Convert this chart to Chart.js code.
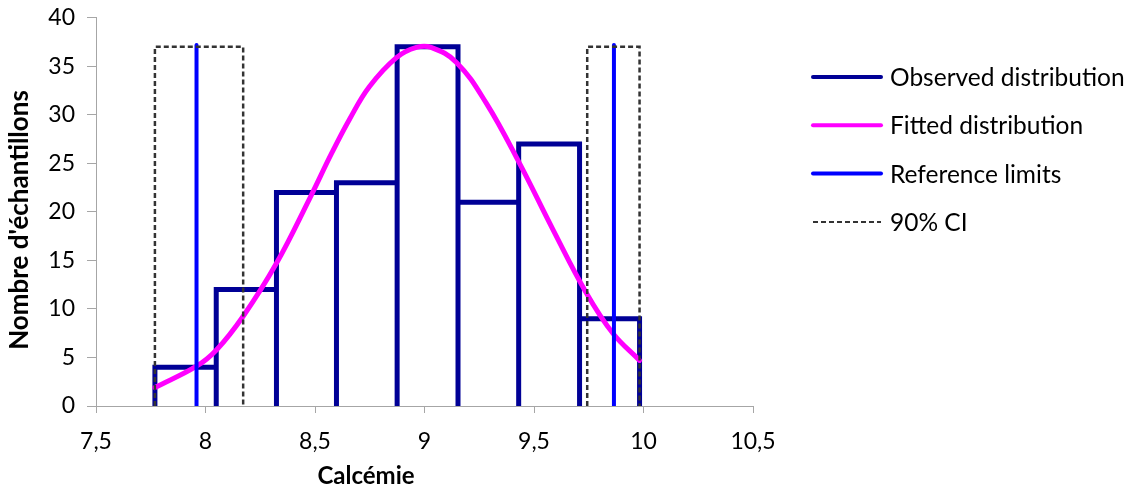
<!DOCTYPE html>
<html lang="fr">
<head>
  <meta charset="UTF-8" />
  <title>Calcémie</title>
  <script src="https://cdn.jsdelivr.net/npm/chart.js"></script>
  <style>
    body {
      margin: 0;
      padding: 0;
      background: #ffffff;
    }
    .wrap {
      width: 1132px;
      height: 492px;
      position: relative;
    }
  </style>
</head>
<body>
  <div class="wrap">
    <canvas id="chart"></canvas>
  </div>

  <script>
    // histogram bins (edges) and counts
    const binEdges = [7.769, 8.049, 8.324, 8.598, 8.875, 9.153, 9.430, 9.708, 9.982];
    const counts = [4, 12, 22, 23, 37, 21, 27, 9];

    // fitted curve
    const fitX = [7.769, 7.959, 8.051, 8.172, 8.324, 8.476, 8.575, 8.659, 8.748, 8.872, 8.963, 9.030, 9.146, 9.282, 9.434, 9.586, 9.739, 9.860, 9.982];
    const fitY = [1.9, 4.1, 5.8, 9.25, 14.7, 21.4, 26.0, 29.6, 32.9, 35.9, 36.95, 36.95, 35.4, 31.2, 25.0, 18.2, 11.65, 7.5, 4.7];

    // reference limits and 90% CI boxes
    const refLimits = [7.959, 9.865];
    const refTop = 37.2;
    const ciLow = [7.769, 8.172];
    const ciHigh = [9.743, 9.982];
    const ciTop = 37;

    const xTicks = [7.5, 8, 8.5, 9, 9.5, 10, 10.5];
    const yTicks = [0, 5, 10, 15, 20, 25, 30, 35, 40];

    const font = 'Lato';
    const axisGrey = '#a6a6a6';

    // outline of the histogram, bar by bar
    const histPath = [];
    counts.forEach((c, i) => {
      histPath.push({ x: binEdges[i], y: 0 });
      histPath.push({ x: binEdges[i], y: c });
      histPath.push({ x: binEdges[i + 1], y: c });
      histPath.push({ x: binEdges[i + 1], y: 0 });
    });

    const fitPath = fitX.map((x, i) => ({ x: x, y: fitY[i] }));

    const refPath = [];
    refLimits.forEach((x, i) => {
      if (i > 0) refPath.push({ x: x, y: null });
      refPath.push({ x: x, y: 0 });
      refPath.push({ x: x, y: refTop });
    });

    const ciPath = [];
    [ciLow, ciHigh].forEach((ci, i) => {
      if (i > 0) ciPath.push({ x: ci[0], y: null });
      ciPath.push({ x: ci[0], y: 0 });
      ciPath.push({ x: ci[0], y: ciTop });
      ciPath.push({ x: ci[1], y: ciTop });
      ciPath.push({ x: ci[1], y: 0 });
    });

    // axis titles sit a little off centre in the original, and the legend is a plain list on the right
    const extrasPlugin = {
      id: 'extras',
      afterDraw(chart) {
        const ctx = chart.ctx;
        const area = chart.chartArea;
        ctx.save();
        ctx.font = 'bold 24px ' + font;
        ctx.fillStyle = '#000';
        ctx.textAlign = 'center';
        ctx.textBaseline = 'middle';
        ctx.fillText('Calcémie', area.left + 270, 476);

        ctx.save();
        ctx.font = 'bold 26px ' + font;
        ctx.translate(20, 220);
        ctx.rotate(-Math.PI / 2);
        ctx.fillText("Nombre d'échantillons", 0, 0);
        ctx.restore();

        ctx.font = '24.5px ' + font;
        ctx.textAlign = 'left';
        chart.data.datasets.forEach((ds, i) => {
          const y = 77 + i * 48.3;
          ctx.strokeStyle = ds.borderColor;
          ctx.lineWidth = ds.borderDash ? 2 : 4;
          ctx.lineCap = ds.borderDash ? 'butt' : 'round';
          ctx.setLineDash(ds.borderDash || []);
          ctx.beginPath();
          ctx.moveTo(area.right + 60, y);
          ctx.lineTo(area.right + 128, y);
          ctx.stroke();
          ctx.fillText(ds.label, area.right + 137, y + 1);
        });
        ctx.restore();
      }
    };

    new Chart(document.getElementById('chart'), {
      type: 'scatter',
      data: {
        datasets: [
          {
            label: 'Observed distribution',
            data: histPath,
            showLine: true,
            borderColor: '#000096',
            borderWidth: 5,
            borderJoinStyle: 'miter',
            borderCapStyle: 'butt',
            pointRadius: 0,
            order: 4
          },
          {
            label: 'Fitted distribution',
            data: fitPath,
            showLine: true,
            borderColor: '#ff00ff',
            borderWidth: 5,
            tension: 0.4,
            borderCapStyle: 'round',
            pointRadius: 0,
            order: 3
          },
          {
            label: 'Reference limits',
            data: refPath,
            showLine: true,
            spanGaps: false,
            borderColor: '#0000ff',
            borderWidth: 4,
            borderCapStyle: 'round',
            pointRadius: 0,
            order: 2
          },
          {
            label: '90% CI',
            data: ciPath,
            showLine: true,
            spanGaps: false,
            borderColor: '#333333',
            borderWidth: 2.5,
            borderDash: [5, 3],
            pointRadius: 0,
            order: 1
          }
        ]
      },
      options: {
        responsive: true,
        maintainAspectRatio: false,
        animation: false,
        layout: { padding: { top: 0, left: 4, right: 379 } },
        plugins: {
          tooltip: { enabled: false },
          legend: { display: false }
        },
        scales: {
          x: {
            type: 'linear',
            min: 7.5,
            max: 10.5,
            afterBuildTicks: s => { s.ticks = xTicks.map(v => ({ value: v })); },
            ticks: {
              color: '#000',
              padding: 15,
              font: { family: font, size: 23 },
              callback: v => String(v).replace('.', ',')
            },
            grid: { drawOnChartArea: false, color: axisGrey, tickLength: 7 },
            border: { color: axisGrey, width: 1 },
            title: { display: true, text: 'Calcémie', color: 'rgba(0,0,0,0)', font: { family: font, size: 24, weight: 'bold' } },
            afterFit: s => { s.height = 86; }
          },
          y: {
            min: 0,
            max: 40,
            afterBuildTicks: s => { s.ticks = yTicks.map(v => ({ value: v })); },
            ticks: {
              color: '#000',
              padding: 12,
              font: { family: font, size: 23, lineHeight: 0.5 }
            },
            grid: { drawOnChartArea: false, color: axisGrey, tickLength: 9 },
            border: { color: axisGrey, width: 1 },
            title: { display: true, text: "Nombre d'échantillons", color: 'rgba(0,0,0,0)', padding: { top: 0, bottom: 4 }, font: { family: font, size: 24, weight: 'bold' } },
            afterFit: s => { s.width = 92; }
          }
        }
      },
      plugins: [extrasPlugin]
    });
  </script>
</body>
</html>
